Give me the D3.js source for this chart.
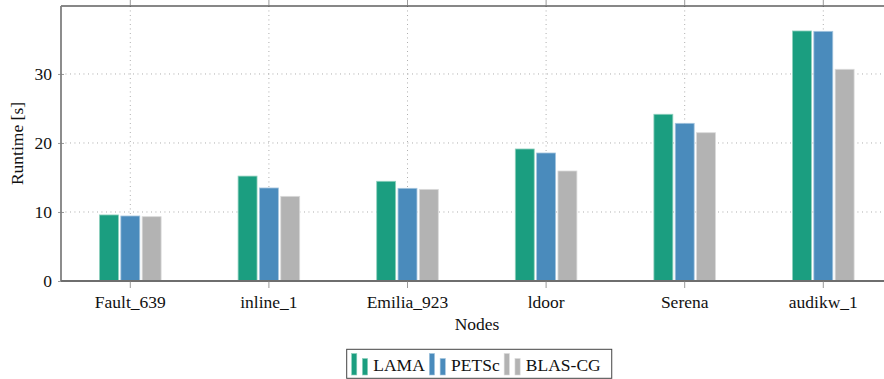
<!DOCTYPE html>
<html>
<head>
<meta charset="utf-8">
<script src="https://cdn.jsdelivr.net/npm/d3@7"></script>
<style>
  html, body { margin: 0; padding: 0; background: #fff; }
  svg { display: block; font-family: "Liberation Serif", "Times New Roman", serif; }
</style>
</head>
<body>
<svg id="chart" width="884" height="379"></svg>
<script>
// Runtime per matrix for three solvers
const categories = ["Fault_639", "inline_1", "Emilia_923", "ldoor", "Serena", "audikw_1"];
const seriesNames = ["LAMA", "PETSc", "BLAS-CG"];
const lamaValues  = [9.57, 15.2, 14.45, 19.13, 24.16, 36.23];
const petscValues = [9.42, 13.48, 13.43, 18.55, 22.85, 36.18];
const blasValues  = [9.32, 12.27, 13.28, 15.94, 21.49, 30.68];
const yTicks = [0, 10, 20, 30];
const seriesValues = [lamaValues, petscValues, blasValues];
const fills   = ["#1b9e80", "#4a8bbc", "#b3b3b3"];
const strokes = ["#8fd0bd", "#a4c5de", "#dadada"];

const FONT = "'Liberation Serif', 'Times New Roman', serif";
const svg = d3.select("#chart");
const plotLeft = 61, plotRight = 892.6, plotTop = 6, plotBottom = 281;

const x = d3.scaleBand().domain(categories).range([plotLeft, plotRight]).padding(0);
const xs = d3.scaleBand().domain(seriesNames).range([-32, 32]).padding(0);
const y = d3.scaleLinear().domain([0, 39.85]).range([plotBottom, plotTop]);

// dotted grid
const grid = svg.append("g").attr("stroke", "#9a9a9a").attr("stroke-width", 0.9)
  .attr("stroke-dasharray", "0.9,3.6");
grid.selectAll("line.h").data(yTicks.filter(d => d > 0)).join("line").attr("class", "h")
  .attr("x1", plotLeft).attr("x2", plotRight)
  .attr("y1", d => y(d)).attr("y2", d => y(d));
grid.selectAll("line.v").data(categories).join("line").attr("class", "v")
  .attr("x1", d => x(d) + x.bandwidth() / 2).attr("x2", d => x(d) + x.bandwidth() / 2)
  .attr("y1", plotTop).attr("y2", plotBottom);

// bars
const groups = svg.append("g").selectAll("g").data(seriesNames).join("g");
groups.each(function(name, si) {
  d3.select(this).selectAll("rect").data(categories).join("rect")
    .attr("x", c => x(c) + x.bandwidth() / 2 + xs(name) + 1.2)
    .attr("width", xs.bandwidth() - 2.4)
    .attr("y", (c, i) => y(seriesValues[si][i]))
    .attr("height", (c, i) => y(0) - y(seriesValues[si][i]))
    .attr("fill", fills[si])
    .attr("stroke", strokes[si])
    .attr("stroke-width", 0.8);
});

// frame: top line black, left and bottom axes gray
svg.append("line").attr("x1", plotLeft).attr("x2", 884).attr("y1", plotTop).attr("y2", plotTop)
  .attr("stroke", "#111").attr("stroke-width", 1.2);

const yAxis = d3.axisLeft(y).tickValues(yTicks).tickSize(0).tickPadding(9);
const gy = svg.append("g").attr("transform", `translate(${plotLeft},0)`).call(yAxis)
  .attr("font-family", FONT).attr("font-size", 17.5);
gy.select(".domain").attr("stroke", "#808080").attr("stroke-width", 1.8)
  .attr("d", `M0,${plotTop}V${plotBottom}`);
gy.selectAll(".tick text").attr("fill", "#111").attr("dy", "0.34em");
gy.selectAll(".tick").append("line").attr("x1", -3).attr("x2", 3)
  .attr("stroke", "#808080").attr("stroke-width", 0.8);

const xAxis = d3.axisBottom(x).tickSize(0).tickPadding(0);
const gx = svg.append("g").attr("transform", `translate(0,${plotBottom})`).call(xAxis)
  .attr("font-family", FONT).attr("font-size", 17.5);
gx.select(".domain").attr("stroke", "#6e6e6e").attr("stroke-width", 2)
  .attr("d", `M${plotLeft},0H884`);
gx.selectAll(".tick text").attr("fill", "#111").attr("dy", null).attr("y", 27);
gx.selectAll(".tick").append("line").attr("y1", 0).attr("y2", 7)
  .attr("stroke", "#808080").attr("stroke-width", 0.8);
// top ticks
svg.append("g").selectAll("line").data(categories).join("line")
  .attr("x1", d => x(d) + x.bandwidth() / 2).attr("x2", d => x(d) + x.bandwidth() / 2)
  .attr("y1", 0).attr("y2", plotTop)
  .attr("stroke", "#808080").attr("stroke-width", 0.8);

// axis titles
svg.append("text").attr("x", 477).attr("y", 330).attr("text-anchor", "middle")
  .attr("font-family", FONT).attr("font-size", 17.5).attr("fill", "#111").text("Nodes");
svg.append("text").attr("transform", "translate(23,143.5) rotate(-90)")
  .attr("text-anchor", "middle").attr("font-family", FONT).attr("font-size", 17.5)
  .attr("fill", "#111").text("Runtime [s]");

// legend
const legend = svg.append("g");
const box = legend.append("rect").attr("x", 346.7).attr("y", 349.3)
  .attr("height", 29).attr("fill", "#fff").attr("stroke", "#444").attr("stroke-width", 1);
let cx = 351.6;
let textEnd = cx;
seriesNames.forEach((name, i) => {
  const hs = [21.5, 16.5];
  hs.forEach((h, k) => {
    legend.append("rect").attr("x", cx + k * 10.8).attr("y", 375 - h)
      .attr("width", 5.2).attr("height", h)
      .attr("fill", fills[i]).attr("stroke", strokes[i]).attr("stroke-width", 0.6);
  });
  const t = legend.append("text").attr("x", cx + 21.7).attr("y", 370.5)
    .attr("font-family", FONT).attr("font-size", 17.5).attr("fill", "#111").text(name);
  textEnd = cx + 21.7 + t.node().getComputedTextLength();
  cx = textEnd + 4.5;
});
box.attr("width", textEnd + 11 - 346.7);
</script>
</body>
</html>
